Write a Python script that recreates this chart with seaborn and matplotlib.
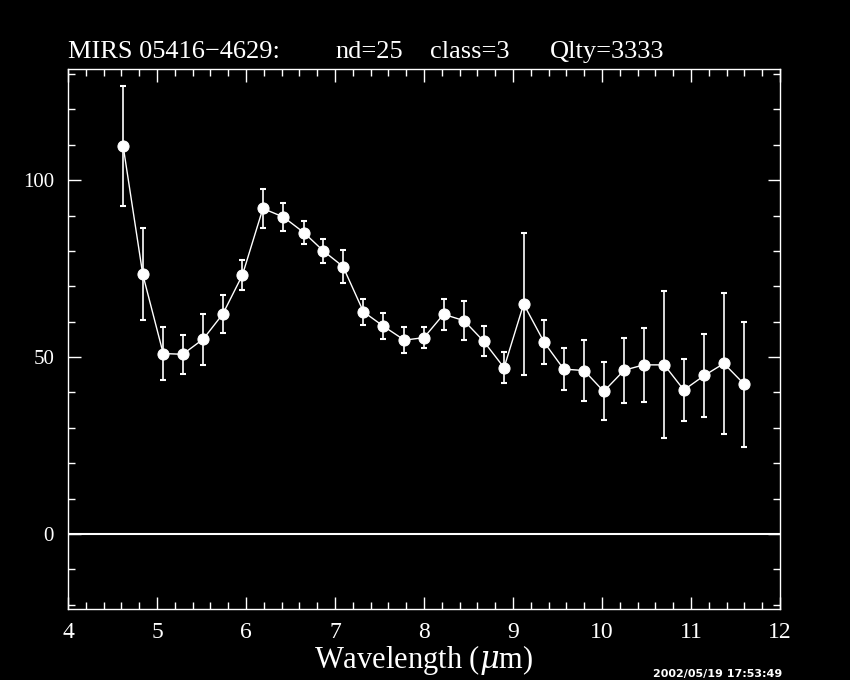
import numpy as np
import pandas as pd
import seaborn as sns
import matplotlib.pyplot as plt
from matplotlib.ticker import MultipleLocator

wavelength = [4.62, 4.84, 5.07, 5.29, 5.52, 5.74, 5.96, 6.19, 6.42, 6.65, 6.87, 7.09,
              7.32, 7.54, 7.78, 8.00, 8.22, 8.45, 8.67, 8.90, 9.12, 9.35, 9.57, 9.80,
              10.02, 10.25, 10.47, 10.70, 10.92, 11.15, 11.37, 11.60]
flux = [109.6, 73.4, 51.0, 50.8, 55.1, 62.2, 73.2, 92.0, 89.6, 85.2, 80.0, 75.6,
        62.8, 58.8, 54.8, 55.5, 62.1, 60.3, 54.5, 47.0, 65.0, 54.2, 46.6, 46.2,
        40.3, 46.3, 47.8, 47.8, 40.7, 44.8, 48.2, 42.3]
flux_err = [17.0, 13.0, 7.5, 5.5, 7.2, 5.3, 4.2, 5.5, 4.0, 3.3, 3.4, 4.6,
            3.7, 3.6, 3.6, 2.9, 4.4, 5.6, 4.3, 4.3, 20.0, 6.2, 5.9, 8.6,
            8.2, 9.2, 10.4, 20.8, 8.7, 11.8, 19.8, 17.7]

title_parts = ["MIRS 05416\u22124629:", "nd=25", "class=3", "Qlty=3333"]
title_x = [68, 335, 430, 550]
stamp = "2002/05/19 17:53:49"

df = pd.DataFrame({"wl": wavelength, "flux": flux, "err": flux_err})

sns.set_theme(style="ticks", rc={
    "figure.facecolor": "black", "axes.facecolor": "black",
    "axes.edgecolor": "white", "text.color": "white",
    "xtick.color": "white", "ytick.color": "white",
    "axes.labelcolor": "white", "axes.linewidth": 1.0,
})
plt.rcParams["font.family"] = ["Liberation Serif", "DejaVu Serif"]
plt.rcParams["mathtext.fontset"] = "dejavuserif"

fig = plt.figure(figsize=(8.5, 6.8), dpi=100)
ax = fig.add_axes([0.08, 0.1044, 0.8376, 0.794])

ax.axhline(0, color="white", lw=1.5)
ax.errorbar(df["wl"], df["flux"], yerr=df["err"], fmt="none", ecolor="white",
            elinewidth=1.2, capsize=2.5, capthick=1.5)
sns.lineplot(data=df, x="wl", y="flux", ax=ax, color="white", lw=1,
             marker="o", markersize=8, markeredgecolor="white", markerfacecolor="white")

ax.set_xlim(4, 12)
ax.set_ylim(-21.2, 131.4)
ax.xaxis.set_major_locator(MultipleLocator(1))
ax.xaxis.set_minor_locator(MultipleLocator(0.2))
ax.yaxis.set_major_locator(MultipleLocator(50))
ax.yaxis.set_minor_locator(MultipleLocator(10))
ax.tick_params(which="both", direction="in", top=True, right=True, width=1)
ax.tick_params(which="major", length=9)
ax.tick_params(which="minor", length=5)
ax.tick_params(axis="x", which="major", labelsize=17, pad=9)
ax.tick_params(axis="y", which="major", labelsize=15, pad=10)
for s in ax.spines.values():
    s.set_visible(True)
    s.set_color("white")

ax.set_xlabel("Wavelength ($\\mu$m)", fontsize=22, labelpad=0)
ax.set_ylabel("")

for txt, px in zip(title_parts, title_x):
    fig.text(px / 850, 1 - 58 / 680, txt, fontsize=19, ha="left", va="baseline")
fig.text(0.768, 1 - 679 / 680, stamp, fontsize=8, fontweight="bold",
         family="DejaVu Sans", ha="left", va="bottom")

fig.savefig("out.png", facecolor="black")
